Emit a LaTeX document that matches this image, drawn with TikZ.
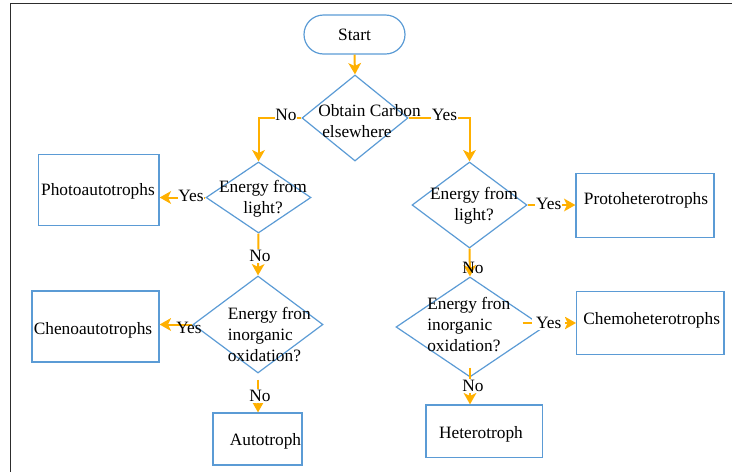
\documentclass[tikz,border=0pt]{standalone}
\usepackage{fontspec}
\setmainfont{Liberation Serif}
\usetikzlibrary{shapes.geometric,shapes.misc,arrows.meta}
\definecolor{nodeblue}{RGB}{91,155,213}
\definecolor{arrorange}{RGB}{255,176,0}
\definecolor{framegray}{RGB}{45,45,45}
\def\pu{0.75pt}
\begin{document}
\begin{tikzpicture}[x=0.75pt,y=-0.75pt,
  every node/.style={font=\fontsize{13}{15.75}\selectfont, inner sep=0pt},
  blueline/.style={draw=nodeblue, line width=0.9pt},
  decision/.style n args={2}{blueline, diamond, minimum width=#1*\pu, minimum height=#2*\pu},
  termbox/.style n args={2}{blueline, rectangle, minimum width=#1*\pu, minimum height=#2*\pu},
  arr/.style={draw=arrorange, line width=1.5pt, -{Stealth[length=8.5pt,width=9.5pt,inset=2.2pt]}},
  lbl/.style={fill=white, inner sep=0.6pt}]
\useasboundingbox (0,0) rectangle (732,472);
\draw[framegray, line width=1.1pt] (10.7,472) -- (10.7,3.3) -- (732,3.3);

% shapes
\node[rounded rectangle, blueline, minimum width=101*\pu, minimum height=39*\pu] (start) at (354.5,34.5) {Start};
\node[decision={106}{86}] (d1) at (355,118) {};
\node[align=left, anchor=west] (t1) at (318,121) {Obtain Carbon\\\hspace{3pt}elsewhere};

\node[decision={105}{71}] (d2) at (258.5,197.5) {};
\node[align=center] (t2) at (263,199) {Energy from\\light?};
\node[termbox={120.7}{71.4}] (p1) at (98.7,190) {};
\node (tp1) at (98,191) {Photoautotrophs};

\node[decision={130}{97}] (d4) at (258,324.5) {};
\node[align=left, anchor=west] (t4) at (227.5,334.5) {Energy fron\\inorganic\\oxidation?};
\node[termbox={127}{71}] (c1) at (95.5,326.5) {};
\node (tc1) at (93,330) {Chenoautotrophs};
\node[termbox={89}{52}] (a1) at (257.5,439) {};
\node (ta1) at (265.5,441.5) {Autotroph};

\node[decision={115}{86}] (d3) at (469.5,205) {};
\node[align=center] (t3) at (474,206) {Energy from\\light?};
\node[termbox={138}{64}] (p2) at (645,205.3) {};
\node (tp2) at (646,200.7) {Protoheterotrophs};

\node[decision={148}{100}] (d5) at (470,327) {};
\node[align=left, anchor=west] (t5) at (427,324.3) {Energy fron\\inorganic\\oxidation?};
\node[termbox={147.3}{62.6}] (c2) at (650.3,323) {};
\node (tc2) at (651.7,320.7) {Chemoheterotrophs};
\node[termbox={116.3}{52.7}] (h1) at (484.2,431.3) {};
\node (th1) at (481,434) {Heterotroph};

% connectors
\draw[arr] (start.south) -- (d1.north);
\draw[arr] (d1.west) -| (d2.north);
\node[lbl] (n1) at (286,115) {No};
\draw[arr] (d1.east) -| (d3.north);
\node[lbl] (y1) at (444.5,115) {Yes};

\draw[arr] (d2.west) -- (d2.west -| p1.east);
\node[lbl] (y2) at (191,196) {Yes};
\draw[arr] (d2.south) -- (d4.north);
\node[lbl] (n2) at (260,256) {No};

\draw[arr] (d4.west) -- (d4.west -| c1.east);
\node (y3) at (189,328) {Yes};
\draw[arr, shorten <=6*\pu] (d4.south) -- (d4.south |- a1.north);
\node[lbl] (n3) at (260,396) {No};

\draw[arr] (d3.east) -- (d3.east -| p2.west);
\node[lbl] (y4) at (548.7,204) {Yes};
\draw[arr] (d3.south) -- (d5.north);
\node (n4) at (473,268) {No};

\coordinate (d5y) at (522.5,323);
\draw[arr] (d5y) -- (d5y -| c2.west);
\node[lbl, inner xsep=3pt] (y5) at (548.7,323) {Yes};
\draw[arr, shorten <=-10*\pu] (d5.south) -- (d5.south |- h1.north);
\node[lbl] (n5) at (473,386) {No};
\end{tikzpicture}
\end{document}
